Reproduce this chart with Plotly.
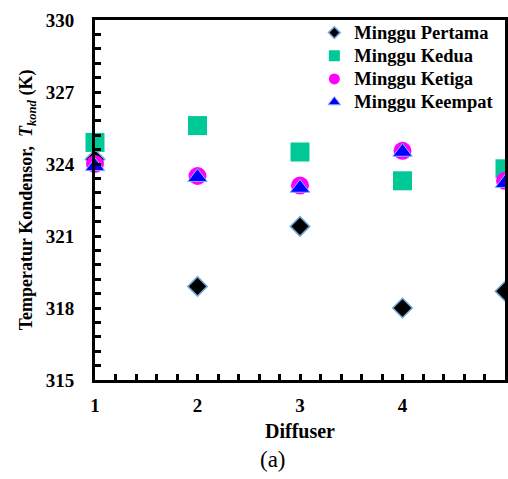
import plotly.graph_objects as go

# Condenser temperature per diffuser, one series per week
diffuser = [1, 2, 3, 4, 5]
minggu_pertama = [324.2, 318.9, 321.4, 318.0, 318.7]
minggu_kedua = [324.9, 325.6, 324.5, 323.3, 323.8]
minggu_ketiga = [324.0, 323.5, 323.1, 324.55, 323.3]
minggu_keempat = [323.9, 323.45, 323.0, 324.5, 323.2]

# labelled y ticks
y_labels = [315, 318, 321, 324, 327, 330]

# tick positions: small steps between the labelled values
x_tick_vals = [round(1 + 0.2 * i, 1) for i in range(21)]
x_tick_text = [str(int(v)) if v in diffuser else "" for v in x_tick_vals]
y_tick_vals = [round(315 + 0.6 * i, 1) for i in range(26)]
y_tick_text = [str(int(v)) if v in y_labels else "" for v in y_tick_vals]

# name, values, symbol, fill, outline, outline width, plot size, legend size
series = [
    ("Minggu Pertama", minggu_pertama, "diamond", "#000000", "#6fa8dc", 1.5, 15, 9),
    ("Minggu Kedua", minggu_kedua, "square", "#00c896", "#00c896", 0, 19, 11),
    ("Minggu Ketiga", minggu_ketiga, "circle", "#ff00ff", "#ff00ff", 0, 18, 11),
    ("Minggu Keempat", minggu_keempat, "triangle-up", "#0000ff", "#8fb4ff", 1, 17, 11),
]

serif = "Liberation Serif"

fig = go.Figure()
for name, vals, sym, col, lcol, lw, size, _ in series:
    fig.add_trace(go.Scatter(
        x=diffuser, y=vals, mode="markers", name=name, showlegend=False,
        cliponaxis=False,
        marker=dict(symbol=sym, size=size, color=col, line=dict(color=lcol, width=lw)),
    ))
# smaller legend symbols
for name, vals, sym, col, lcol, lw, _, lsize in series:
    fig.add_trace(go.Scatter(
        x=[None], y=[None], mode="markers",
        name=f"<span style='font-size:18.5px'>{name}</span>",
        marker=dict(symbol=sym, size=lsize, color=col, line=dict(color=lcol, width=lw)),
    ))

tick_font = dict(family=serif, size=19, color="black", weight="bold")

fig.update_xaxes(
    range=[1, 5], tickmode="array", tickvals=x_tick_vals, ticktext=x_tick_text,
    showline=True, linecolor="black", linewidth=3, mirror=True,
    ticks="inside", tickcolor="black", tickwidth=3, ticklen=6,
    showgrid=False, zeroline=False, tickfont=tick_font,
    ticklabelstandoff=6,
    title=dict(text="Diffuser", font=dict(family=serif, size=20, color="black", weight="bold"), standoff=10),
)
fig.update_yaxes(
    range=[315, 330], tickmode="array", tickvals=y_tick_vals, ticktext=y_tick_text,
    showline=True, linecolor="black", linewidth=3, mirror=True,
    ticks="inside", tickcolor="black", tickwidth=3, ticklen=6,
    showgrid=False, zeroline=False, tickfont=tick_font,
    ticklabelstandoff=14,
    title=dict(
        text="Temperatur Kondensor,  <i>T<sub>kond</sub></i> (K)",
        font=dict(family=serif, size=18, color="black", weight="bold"), standoff=9,
    ),
)

fig.add_annotation(
    text="(a)", xref="paper", yref="paper", x=0.434, y=-0.222, xanchor="center", yanchor="middle",
    showarrow=False, font=dict(family=serif, size=23, color="black"),
)

fig.update_layout(
    width=508, height=479,
    margin=dict(l=95, r=3, t=20, b=99, autoexpand=False),
    plot_bgcolor="white", paper_bgcolor="white",
    legend=dict(
        x=0.535, y=1.011, xanchor="left", yanchor="top",
        bgcolor="rgba(0,0,0,0)", borderwidth=0, tracegroupgap=0,
        font=dict(family=serif, size=15.5, color="black", weight="bold"),
        itemsizing="trace",
    ),
)

fig.write_html("out.html")
